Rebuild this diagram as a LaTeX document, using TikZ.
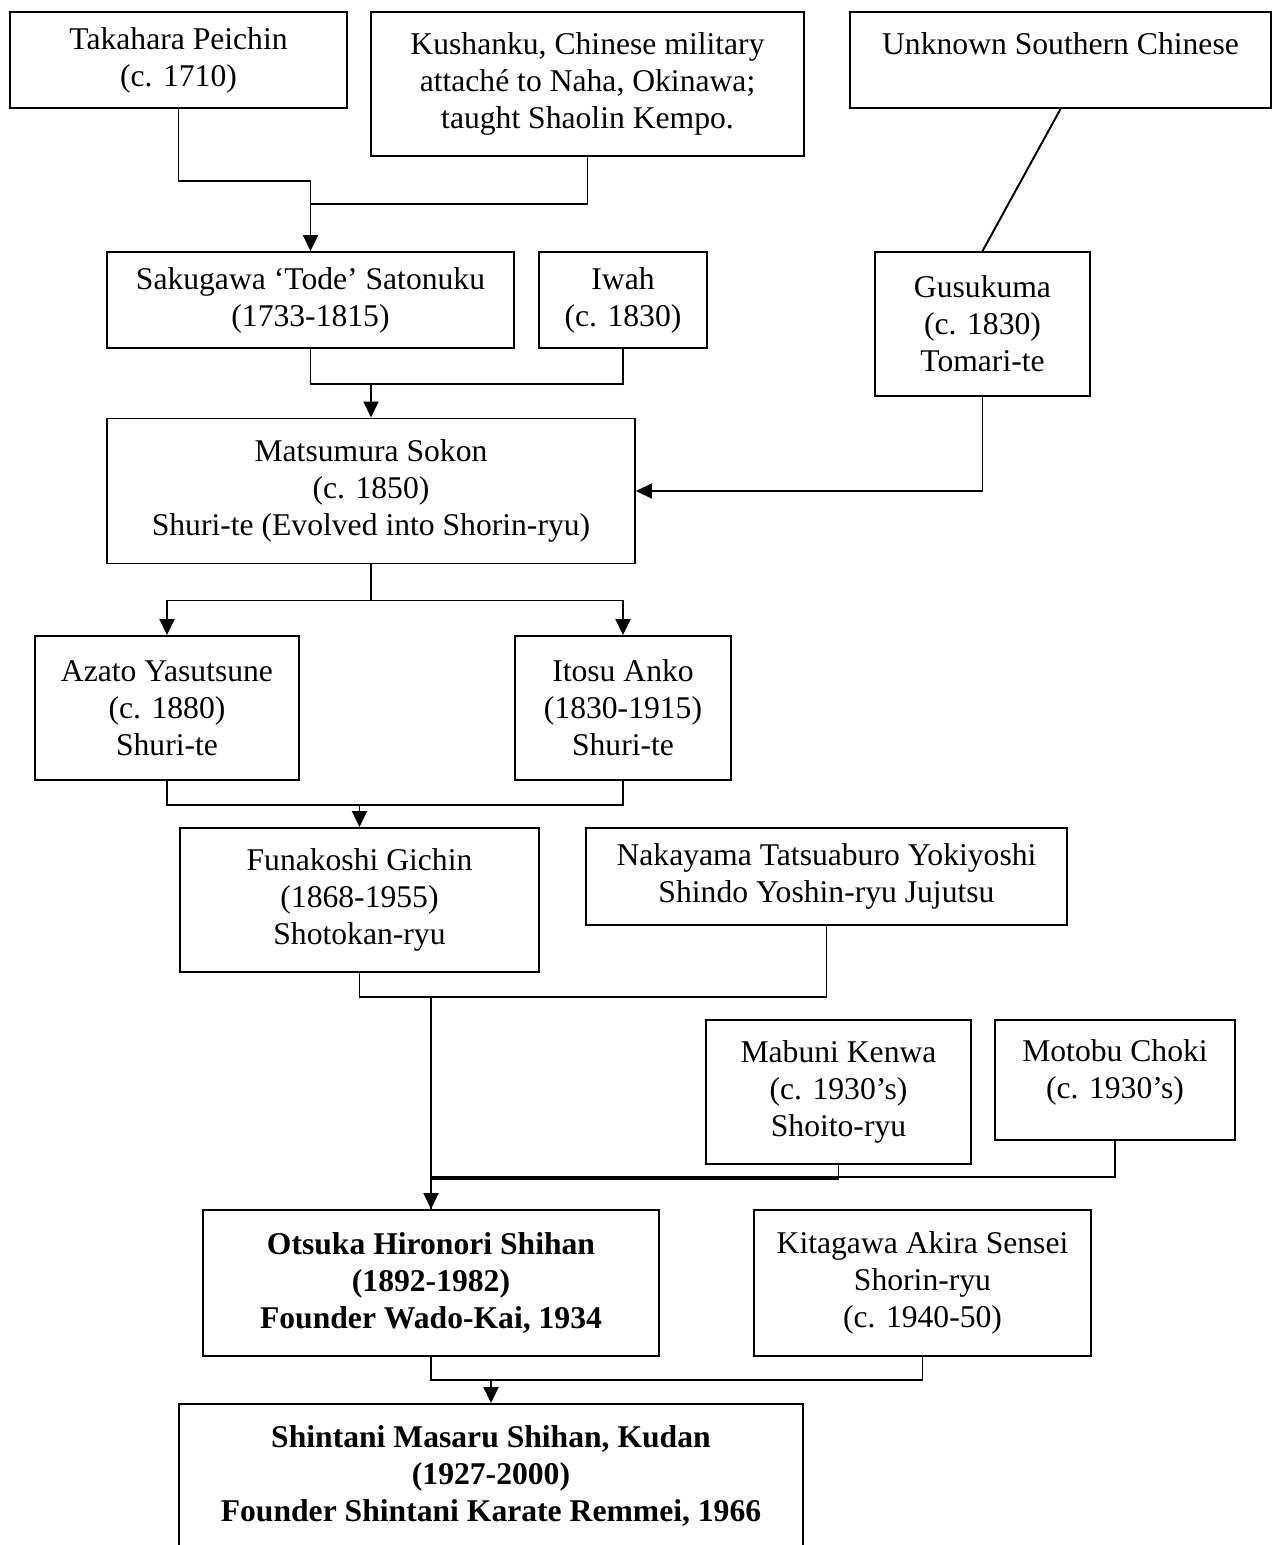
\documentclass[tikz,border=0pt]{standalone}
\usepackage{fontspec}
\setmainfont{Liberation Serif}
\usetikzlibrary{arrows.meta}
\tikzset{
  person/.style 2 args={draw, align=center, inner sep=0pt,
    minimum width=#1*0.2mm, minimum height=#2*0.2mm,
    font=\fontsize{18}{21}\selectfont},
  founder/.style={font=\fontsize{18}{21}\selectfont\bfseries}
}
\begin{document}
\begin{tikzpicture}[x=0.2mm, y=-0.2mm, line width=1.1pt,
    >={Triangle[length=3.2mm,width=3mm]}]
      \useasboundingbox (0,0) rectangle (1273,1545);
      \node[person={337}{96}] (taka) at (178.5,60) {Takahara Peichin\\(c. 1710)};
      \node[person={433}{144}] (kush) at (587.5,84) {Kushanku, Chinese military\\attaché to Naha, Okinawa;\\taught Shaolin Kempo.};
      \node[person={421}{96}] (unkn) at (1060.5,60) {Unknown Southern Chinese\\[-8pt]\strut};
      \node[person={407}{96}] (saku) at (310.5,300) {Sakugawa ‘Tode’ Satonuku\\(1733-1815)};
      \node[person={168}{96}] (iwah) at (623,300) {Iwah\\(c. 1830)};
      \node[person={215}{144}] (gusu) at (982.5,324) {Gusukuma\\(c. 1830)\\Tomari-te};
      \node[person={528}{145}] (mats) at (371,491) {Matsumura Sokon\\(c. 1850)\\Shuri-te (Evolved into Shorin-ryu)};
      \node[person={264}{144}] (azat) at (167,708) {Azato Yasutsune\\(c. 1880)\\Shuri-te};
      \node[person={216}{144}] (itos) at (623,708) {Itosu Anko\\(1830-1915)\\Shuri-te};
      \node[person={359}{144}] (funa) at (359.5,900) {Funakoshi Gichin\\(1868-1955)\\Shotokan-ryu};
      \node[person={481}{97}] (naka) at (826.5,876.5) {Nakayama Tatsuaburo Yokiyoshi\\Shindo Yoshin-ryu Jujutsu};
      \node[person={265}{144}] (mabu) at (838.5,1092) {Mabuni Kenwa\\(c. 1930’s)\\Shoito-ryu};
      \node[person={240}{120}] (moto) at (1115,1080) {Motobu Choki\\(c. 1930’s)\\[-15pt]\strut};
      \node[person={456}{146}, founder] (otsu) at (431,1283) {Otsuka Hironori Shihan\\(1892-1982)\\Founder Wado-Kai, 1934};
      \node[person={337}{146}] (kita) at (922.5,1283) {Kitagawa Akira Sensei\\Shorin-ryu\\(c. 1940-50)};
      \node[person={624}{144}, founder] (shin) at (491,1476) {Shintani Masaru Shihan, Kudan\\(1927-2000)\\Founder Shintani Karate Remmei, 1966};
      \begin{scope}[->]
        \draw (taka.south) -- ++(0,72) -| (saku.north);
        \draw[-] (kush.south) -- ++(0,47) -| (saku.north);
        \draw[-] (saku.south) -- ++(0,35) coordinate (j1) -| (iwah.south);
        \draw (j1 -| mats.north) -- (mats.north);
        \draw[-] (unkn.south) -- (gusu.north);
        \draw (gusu.south) |- (mats.east);
        \draw[-] (mats.south) -- ++(0,36) coordinate (j2);
        \draw (j2) -| (azat.north);
        \draw (j2) -| (itos.north);
        \draw[-] (azat.south) -- ++(0,24) coordinate (j3) -| (itos.south);
        \draw (j3 -| funa.north) -- (funa.north);
        \draw[-] (funa.south) -- ++(0,24) coordinate (j4) -| (naka.south);
        \draw (j4 -| otsu.north) -- (otsu.north);
        \draw[-] (mabu.south) -- ++(0,14) -| (otsu.north);
        \draw[-] (moto.south) -- ++(0,36) -| (otsu.north);
        \draw[-] (otsu.south) -- ++(0,23) coordinate (j5) -| (kita.south);
        \draw (j5 -| shin.north) -- (shin.north);
      \end{scope}
    \end{tikzpicture}
\end{document}
